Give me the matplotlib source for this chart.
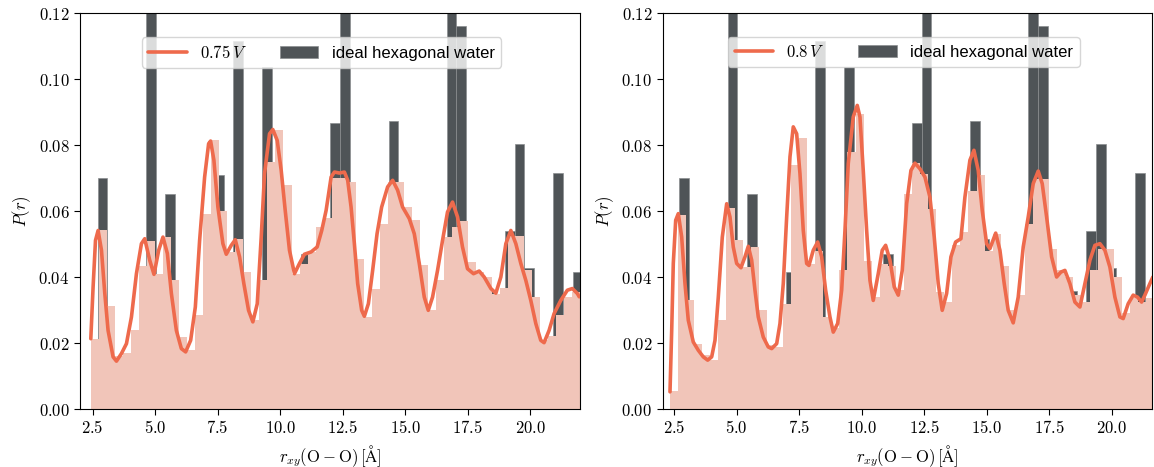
import numpy as np
import matplotlib
matplotlib.use("Agg")
import matplotlib.pyplot as plt
from matplotlib.ticker import FuncFormatter, MultipleLocator

plt.rcParams['mathtext.fontset'] = 'cm'
plt.rcParams['font.size'] = 12

# ideal hexagonal water histogram (same in both panels)
ideal_start, ideal_width = 2.70, 0.388
ideal_p = [0.070, 0, 0, 0, 0, 0.17, 0, 0.065, 0, 0,
           0, 0.0415, 0.0708, 0, 0.1115, 0, 0, 0.1036, 0, 0,
           0, 0.047, 0, 0, 0.0867, 0.16, 0, 0, 0, 0,
           0.0873, 0.0516, 0, 0, 0, 0, 0.15, 0.116, 0, 0,
           0.0359, 0, 0.054, 0.0804, 0.0427, 0, 0, 0.0715, 0, 0.0415]

# 0.75 V histogram
hist075_start, hist075_width = 2.435, 0.321
hist075 = [0.0213, 0.0541, 0.0311, 0.016, 0.017, 0.0238, 0.0433, 0.051, 0.041, 0.052,
           0.039, 0.0218, 0.0178, 0.0284, 0.0592, 0.0814, 0.0599, 0.0476, 0.0516, 0.0415,
           0.0269, 0.039, 0.0748, 0.0844, 0.068, 0.041, 0.044, 0.0476, 0.0553, 0.058,
           0.070, 0.070, 0.0688, 0.0456, 0.028, 0.0363, 0.0562, 0.0688, 0.0688, 0.0612,
           0.0572, 0.0435, 0.030, 0.039, 0.052, 0.055, 0.057, 0.0446, 0.0415, 0.040,
           0.035, 0.0368, 0.0523, 0.0523, 0.042, 0.034, 0.021, 0.022, 0.0284, 0.034,
           0.0356]

# 0.8 V histogram
hist08_start, hist08_width = 2.328, 0.3229
hist08 = [0.0055, 0.0587, 0.033, 0.0198, 0.0163, 0.0148, 0.027, 0.061, 0.0513, 0.043,
          0.049, 0.030, 0.0193, 0.0188, 0.0317, 0.0738, 0.082, 0.044, 0.048, 0.028,
          0.0244, 0.042, 0.078, 0.0895, 0.045, 0.034, 0.044, 0.0432, 0.036, 0.0653,
          0.0745, 0.0711, 0.0607, 0.0355, 0.0324, 0.0496, 0.0536, 0.066, 0.0708, 0.048,
          0.053, 0.0432, 0.030, 0.0345, 0.056, 0.0698, 0.0698, 0.0486, 0.042, 0.040,
          0.0345, 0.0325, 0.042, 0.0486, 0.0486, 0.040, 0.029, 0.0335, 0.0325, 0.0335]

# KDE curves
kde075_r = [2.432, 2.524, 2.620, 2.724, 2.859, 2.991, 3.123, 3.323, 3.458, 3.658,
            3.858, 4.058, 4.257, 4.457, 4.589, 4.788, 4.960, 5.148, 5.319, 5.495,
            5.655, 5.855, 6.054, 6.226, 6.426, 6.613, 6.785, 6.985, 7.145, 7.224,
            7.356, 7.516, 7.716, 7.851, 8.051, 8.211, 8.383, 8.554, 8.742, 8.914,
            9.090, 9.249, 9.381, 9.581, 9.713, 9.888, 10.048, 10.208, 10.379, 10.579,
            10.779, 10.978, 11.246, 11.486, 11.669, 11.845, 12.045, 12.177, 12.376, 12.576,
            12.708, 12.843, 12.975, 13.107, 13.267, 13.375, 13.535, 13.706, 13.882, 14.066,
            14.305, 14.505, 14.705, 14.904, 15.172, 15.371, 15.571, 15.771, 15.931, 16.102,
            16.302, 16.502, 16.701, 16.901, 17.101, 17.300, 17.500, 17.740, 17.967, 18.167,
            18.435, 18.634, 18.834, 19.034, 19.233, 19.433, 19.633, 19.832, 20.032, 20.232,
            20.431, 20.563, 20.763, 20.963, 21.230, 21.494, 21.694, 21.893, 21.97]
kde075_p = [0.0213, 0.0370, 0.0511, 0.0541, 0.0481, 0.0351, 0.0238, 0.0158, 0.0145, 0.0168,
            0.0198, 0.0279, 0.0410, 0.0501, 0.0516, 0.0451, 0.0408, 0.0481, 0.0521, 0.0471,
            0.0350, 0.0238, 0.0183, 0.0173, 0.0208, 0.0309, 0.0511, 0.0703, 0.0804, 0.0812,
            0.0754, 0.0612, 0.0501, 0.0469, 0.0496, 0.0513, 0.0461, 0.0380, 0.0299, 0.0264,
            0.0319, 0.0521, 0.0713, 0.0834, 0.0847, 0.0814, 0.0723, 0.0602, 0.0481, 0.0410,
            0.0441, 0.0469, 0.0476, 0.0491, 0.0541, 0.0602, 0.0703, 0.0718, 0.0715, 0.0718,
            0.0693, 0.0612, 0.0501, 0.0380, 0.0299, 0.0281, 0.0319, 0.0420, 0.0531, 0.0612,
            0.0673, 0.0693, 0.0663, 0.0612, 0.0577, 0.0531, 0.0441, 0.0339, 0.0299, 0.0339,
            0.0420, 0.0511, 0.0597, 0.0627, 0.0582, 0.0491, 0.0425, 0.0410, 0.0418, 0.0400,
            0.0365, 0.0351, 0.0400, 0.0501, 0.0541, 0.0501, 0.0441, 0.0390, 0.0329, 0.0259,
            0.0208, 0.0201, 0.0238, 0.0289, 0.0329, 0.0360, 0.0365, 0.0350, 0.0340]

kde08_r = [2.328, 2.396, 2.460, 2.556, 2.660, 2.796, 2.928, 3.060, 3.260, 3.460,
           3.660, 3.837, 3.997, 4.129, 4.261, 4.421, 4.597, 4.729, 4.861, 4.997,
           5.169, 5.329, 5.461, 5.597, 5.729, 5.861, 6.061, 6.261, 6.398, 6.598,
           6.730, 6.862, 6.998, 7.130, 7.262, 7.398, 7.530, 7.662, 7.798, 7.890,
           8.062, 8.238, 8.398, 8.558, 8.730, 8.863, 9.039, 9.199, 9.331, 9.463,
           9.663, 9.823, 9.931, 10.063, 10.199, 10.331, 10.463, 10.663, 10.823, 10.959,
           11.131, 11.304, 11.464, 11.624, 11.800, 11.972, 12.132, 12.332, 12.532, 12.732,
           12.904, 13.064, 13.224, 13.400, 13.572, 13.760, 13.972, 14.132, 14.332, 14.493,
           14.665, 14.825, 15.001, 15.133, 15.364, 15.533, 15.705, 15.865, 16.065, 16.265,
           16.466, 16.666, 16.866, 17.066, 17.226, 17.402, 17.602, 17.802, 17.974, 18.134,
           18.334, 18.534, 18.735, 18.935, 19.135, 19.335, 19.535, 19.735, 19.935, 20.135,
           20.335, 20.467, 20.667, 20.867, 21.043, 21.203, 21.335, 21.535, 21.655]
kde08_p = [0.0052, 0.0238, 0.0441, 0.0572, 0.0592, 0.0521, 0.0380, 0.0269, 0.0203, 0.0178,
           0.0158, 0.0148, 0.0158, 0.0208, 0.0339, 0.0521, 0.0622, 0.0582, 0.0491, 0.0441,
           0.0428, 0.0461, 0.0493, 0.0451, 0.0360, 0.0279, 0.0218, 0.0188, 0.0183, 0.0198,
           0.0259, 0.0380, 0.0582, 0.0764, 0.0855, 0.0834, 0.0713, 0.0541, 0.0441, 0.0435,
           0.0481, 0.0506, 0.0461, 0.0360, 0.0279, 0.0233, 0.0259, 0.0360, 0.0541, 0.0744,
           0.0885, 0.0920, 0.0885, 0.0723, 0.0541, 0.0390, 0.0329, 0.0410, 0.0481, 0.0496,
           0.0451, 0.0370, 0.0345, 0.0420, 0.0622, 0.0723, 0.0745, 0.0728, 0.0703, 0.0642,
           0.0521, 0.0380, 0.0299, 0.0350, 0.0461, 0.0506, 0.0516, 0.0642, 0.0754, 0.0784,
           0.0723, 0.0602, 0.0501, 0.0486, 0.0533, 0.0481, 0.0380, 0.0299, 0.0261, 0.0339,
           0.0491, 0.0582, 0.0683, 0.0721, 0.0683, 0.0582, 0.0461, 0.0400, 0.0415, 0.0420,
           0.0380, 0.0324, 0.0309, 0.0380, 0.0451, 0.0496, 0.0501, 0.0481, 0.0430, 0.0339,
           0.0279, 0.0274, 0.0319, 0.0345, 0.0339, 0.0324, 0.0345, 0.0380, 0.0400]

line_col = '#ee6a4c'
fill_col = '#f1c5b9'
dark_col = '#4f5457'

fig = plt.figure(figsize=(11.54, 4.67), dpi=100)
ax1 = fig.add_axes([80/1154, 1-409/467, 500/1154, 396/467])
ax2 = fig.add_axes([662.7/1154, 1-409/467, 489.3/1154, 396/467])

panels = [
    (ax1, hist075_start, hist075_width, hist075, kde075_r, kde075_p, r'$0.75\,V$', (2.0, 22.0), 0.483),
    (ax2, hist08_start, hist08_width, hist08, kde08_r, kde08_p, r'$0.8\,V$', (2.036, 21.62), 0.493),
]

for ax, h0, hw, hv, kr, kp, lab, xl, lx in panels:
    ie = ideal_start + ideal_width * np.arange(len(ideal_p))
    ax.bar(ie, ideal_p, width=ideal_width, align='edge', color=dark_col,
           edgecolor='#8a8d8f', linewidth=0.5, label='ideal hexagonal water', zorder=1)
    he = h0 + hw * np.arange(len(hv))
    ax.bar(he, hv, width=hw, align='edge', color=fill_col, linewidth=0, zorder=2)
    ax.plot(kr, kp, color=line_col, lw=2.6, label=lab, zorder=3,
            solid_joinstyle='round', solid_capstyle='round')
    ax.set_xlim(*xl)
    ax.set_ylim(0, 0.12)
    ax.xaxis.set_major_locator(MultipleLocator(2.5))
    ax.yaxis.set_major_locator(MultipleLocator(0.02))
    ax.xaxis.set_major_formatter(FuncFormatter(lambda v, p: f'${v:.1f}$'))
    ax.yaxis.set_major_formatter(FuncFormatter(lambda v, p: f'${v:.2f}$'))
    ax.tick_params(labelsize=12, length=4)
    ax.set_xlabel(r'$r_{xy}(\mathrm{O-O})\,[\mathrm{\AA}]$', fontsize=12)
    ax.set_ylabel(r'$P(r)$', fontsize=12)
    ax.legend(loc='upper center', bbox_to_anchor=(lx, 0.96), ncol=2,
              prop={'family': 'Liberation Sans', 'size': 12}, handlelength=2.3)

fig.savefig('out.png', dpi=100)
